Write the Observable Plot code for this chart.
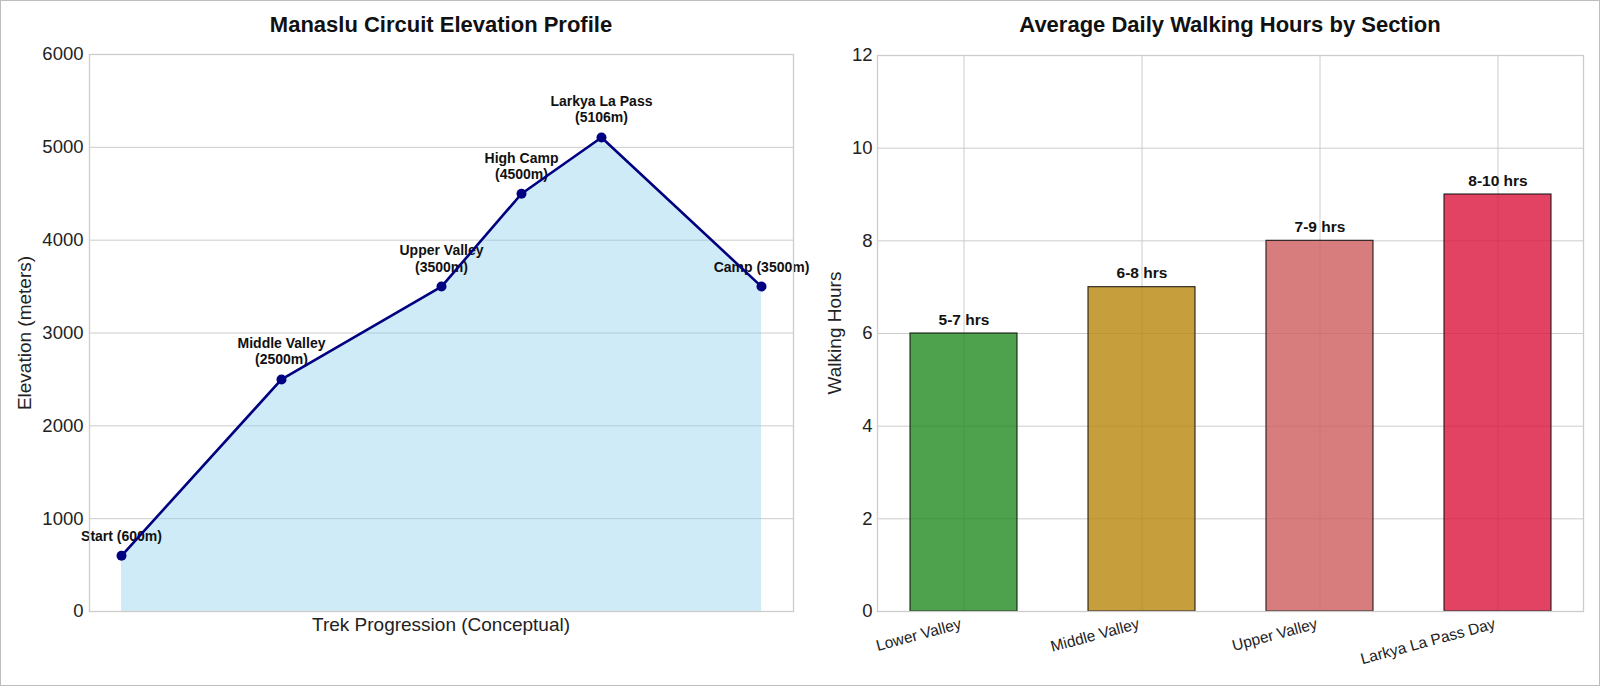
<!DOCTYPE html>
<html>
<head>
<meta charset="utf-8">
<script src="https://cdn.jsdelivr.net/npm/d3@7"></script>
<script src="https://cdn.jsdelivr.net/npm/@observablehq/plot@0.6"></script>
<style>
  html, body { margin: 0; padding: 0; background: #fff; }
  #fig { position: relative; width: 1600px; height: 686px; overflow: hidden;
         font-family: "Liberation Sans", Arial, sans-serif; color: #1a1a1a; }
  #fig .panel { position: absolute; top: 0; }
  #fig .txt { position: absolute; white-space: nowrap; transform: translate(-50%, -50%); }
  #fig .title { font-weight: bold; font-size: 22px; color: #111; }
  #fig .axlabel { font-size: 19px; color: #222; }
  #fig .rot { transform: translate(-50%, -50%) rotate(-90deg); }
  #border { position: absolute; left: 0; top: 0; width: 1598px; height: 684px;
            border: 1px solid #bdbdbd; pointer-events: none; }
</style>
</head>
<body>
<div id="fig">
  <div class="panel" id="left" style="left:0"></div>
  <div class="panel" id="right" style="left:800px"></div>
  <div class="txt title" style="left:441px; top:25px">Manaslu Circuit Elevation Profile</div>
  <div class="txt title" style="left:1230px; top:25px">Average Daily Walking Hours by Section</div>
  <div class="txt axlabel" style="left:441px; top:625px">Trek Progression (Conceptual)</div>
  <div class="txt axlabel rot" style="left:25px; top:333px">Elevation (meters)</div>
  <div class="txt axlabel rot" style="left:835px; top:333px">Walking Hours</div>
  <div id="border"></div>
</div>
<script>
// Elevation profile stops
const stops = ["Start", "Middle Valley", "Upper Valley", "High Camp", "Larkya La Pass", "Camp"];
const progress = [0, 2, 4, 5, 6, 8];
const elevation = [600, 2500, 3500, 4500, 5106, 3500];
const labelBreak = [" ", "\n", "\n", "\n", "\n", " "];
const elevationTicks = [0, 1000, 2000, 3000, 4000, 5000, 6000];

// Walking hours per section (range low–high, bar at the midpoint)
const sections = ["Lower Valley", "Middle Valley", "Upper Valley", "Larkya La Pass Day"];
const hoursLow = [5, 6, 7, 8];
const hoursHigh = [7, 8, 9, 10];
const sectionColors = ["forestgreen", "darkgoldenrod", "indianred", "crimson"];
const hourTicks = [0, 2, 4, 6, 8, 10, 12];

const font = '"Liberation Sans", Arial, sans-serif';

const profile = stops.map((name, i) => ({
  name, x: progress[i], elev: elevation[i],
  label: `${name}${labelBreak[i]}(${elevation[i]}m)`
}));

const walking = sections.map((s, i) => ({
  section: s,
  hours: (hoursLow[i] + hoursHigh[i]) / 2,
  label: `${hoursLow[i]}-${hoursHigh[i]} hrs`,
  color: sectionColors[i]
}));

const left = Plot.plot({
  width: 800, height: 686,
  marginLeft: 89, marginRight: 7, marginTop: 54, marginBottom: 75,
  style: { fontFamily: font, background: "transparent", overflow: "visible" },
  x: { domain: [-0.4, 8.4], axis: null },
  y: { domain: [0, 6000] },
  marks: [
    Plot.gridY(elevationTicks, { stroke: "#cccccc", strokeOpacity: 1, strokeWidth: 1 }),
    Plot.areaY(profile, { x: "x", y: "elev", fill: "skyblue", fillOpacity: 0.4 }),
    Plot.text(profile, {
      x: "x", y: "elev", text: "label", lineAnchor: "bottom", dy: -15,
      fontSize: 14, fontWeight: "bold", fill: "#111", lineHeight: 1.15
    }),
    Plot.line(profile, { x: "x", y: "elev", stroke: "navy", strokeWidth: 2.6 }),
    Plot.dot(profile, { x: "x", y: "elev", r: 5, fill: "navy" }),
    Plot.axisY(elevationTicks, { tickSize: 0, tickPadding: 6, fontSize: 18.5, label: null, fill: "#222", tickFormat: d => String(d) }),
    Plot.frame({ stroke: "#cccccc", strokeWidth: 1.3 })
  ]
});
document.getElementById("left").appendChild(left);

const right = Plot.plot({
  width: 800, height: 686,
  marginLeft: 77, marginRight: 17, marginTop: 55, marginBottom: 75,
  style: { fontFamily: font, background: "transparent", overflow: "visible" },
  x: { domain: sections, paddingInner: 0.4, paddingOuter: 0.18 },
  y: { domain: [0, 12] },
  marks: [
    Plot.gridY(hourTicks, { stroke: "#cccccc", strokeOpacity: 1, strokeWidth: 1 }),
    Plot.gridX(sections, { stroke: "#cccccc", strokeOpacity: 1, strokeWidth: 1 }),
    Plot.barY(walking, {
      x: "section", y: "hours", fill: "color", fillOpacity: 0.8,
      stroke: "#111", strokeOpacity: 0.85, strokeWidth: 1.2
    }),
    Plot.text(walking, {
      x: "section", y: "hours", text: "label", lineAnchor: "bottom", dy: -9,
      fontSize: 15.5, fontWeight: "bold", fill: "#111"
    }),
    Plot.axisY(hourTicks, { tickSize: 0, tickPadding: 5, fontSize: 18.5, label: null, fill: "#222", tickFormat: d => String(d) }),
    Plot.axisX({ tickSize: 0, tickPadding: 8, tickRotate: -15, dx: -3, dy: 4, fontSize: 15.5, label: null, fill: "#222" }),
    Plot.frame({ stroke: "#cccccc", strokeWidth: 1.3 })
  ]
});
document.getElementById("right").appendChild(right);
</script>
</body>
</html>
